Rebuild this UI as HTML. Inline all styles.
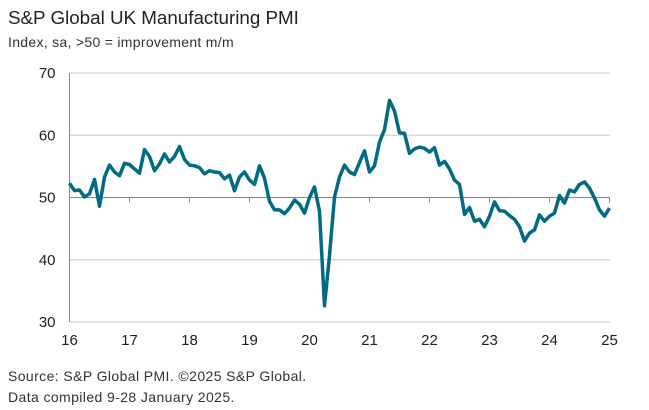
<!DOCTYPE html>
<html><head><meta charset="utf-8"><style>
body{margin:0;background:#fff;font-family:"Liberation Sans",Arial,sans-serif;}
svg{display:block}
</style></head><body>
<svg width="649" height="410">
<text x="8" y="24" font-size="18.8" fill="#222">S&amp;P Global UK Manufacturing PMI</text>
<text x="8" y="47" font-size="14" letter-spacing="0.3" fill="#333">Index, sa, &gt;50 = improvement m/m</text>
<g id="grid"></g><g id="axes"></g>
<path id="line" fill="none" stroke="#006b82" stroke-width="3.5" stroke-linejoin="round"/>
<text x="8" y="381" font-size="14" letter-spacing="0.4" fill="#333">Source: S&amp;P Global PMI. ©2025 S&amp;P Global.</text>
<text x="8" y="402" font-size="14" letter-spacing="0.4" fill="#333">Data compiled 9-28 January 2025.</text>
</svg>
<script>
const yTicks=[30,40,50,60,70];
const xLabels=["16","17","18","19","20","21","22","23","24","25"];
const pmi=[52.3,51.1,51.2,50.1,50.6,52.9,48.6,53.3,55.2,54.1,53.5,55.5,
55.3,54.6,53.9,57.7,56.6,54.3,55.4,57.0,55.7,56.6,58.2,56.1,
55.2,55.1,54.8,53.8,54.3,54.1,54.0,53.0,53.6,51.1,53.3,54.1,
52.8,52.1,55.1,53.1,49.4,48.0,48.0,47.4,48.3,49.6,48.9,47.5,
50.0,51.7,47.8,32.6,40.7,50.1,53.3,55.2,54.1,53.7,55.6,57.5,
54.1,55.1,58.9,60.9,65.6,63.9,60.4,60.3,57.1,57.8,58.1,57.9,
57.3,58.0,55.2,55.8,54.6,52.8,52.1,47.3,48.4,46.2,46.5,45.3,
47.0,49.3,47.9,47.8,47.1,46.5,45.3,43.0,44.3,44.8,47.2,46.2,
47.0,47.5,50.3,49.1,51.2,50.9,52.1,52.5,51.5,49.9,48.0,47.0,
48.3];
const X0=69.5,PXM=5,Y0=322,YTOP=73;
const xS=i=>X0+i*PXM;
const yS=v=>Y0-(v-30)*(Y0-YTOP)/40;
const NS="http://www.w3.org/2000/svg";
const grid=document.getElementById('grid'),axes=document.getElementById('axes');
function mk(tag,attrs,parent){const e=document.createElementNS(NS,tag);for(const k in attrs)e.setAttribute(k,attrs[k]);parent.appendChild(e);return e;}
yTicks.forEach(v=>{
 const l=mk('line',{x1:X0,x2:610,y1:yS(v),y2:yS(v),stroke:v===50?'#888':'#c8c8c8','stroke-width':1},grid);
 
 
 const t=mk('text',{x:X0-14,y:yS(v)+5,'text-anchor':'end','font-size':15,fill:'#222'},axes);
 t.textContent=v;
 
 
});
const ya=mk('line',{x1:X0,x2:X0,y1:YTOP,y2:Y0,stroke:'#888'},axes);


xLabels.forEach((s,k)=>{
 const x=xS(k*12);
 mk('line',{x1:x,x2:x,y1:yS(50),y2:yS(50)+5,stroke:'#888'},axes);
 const t=mk('text',{x:x,y:345,'text-anchor':'middle','font-size':15,fill:'#222'},axes);
 t.textContent=s;
 
 
});
document.getElementById('line').setAttribute('d',pmi.map((v,i)=>(i?'L':'M')+xS(i).toFixed(1)+','+yS(v).toFixed(1)).join(''));
</script>
</body></html>
